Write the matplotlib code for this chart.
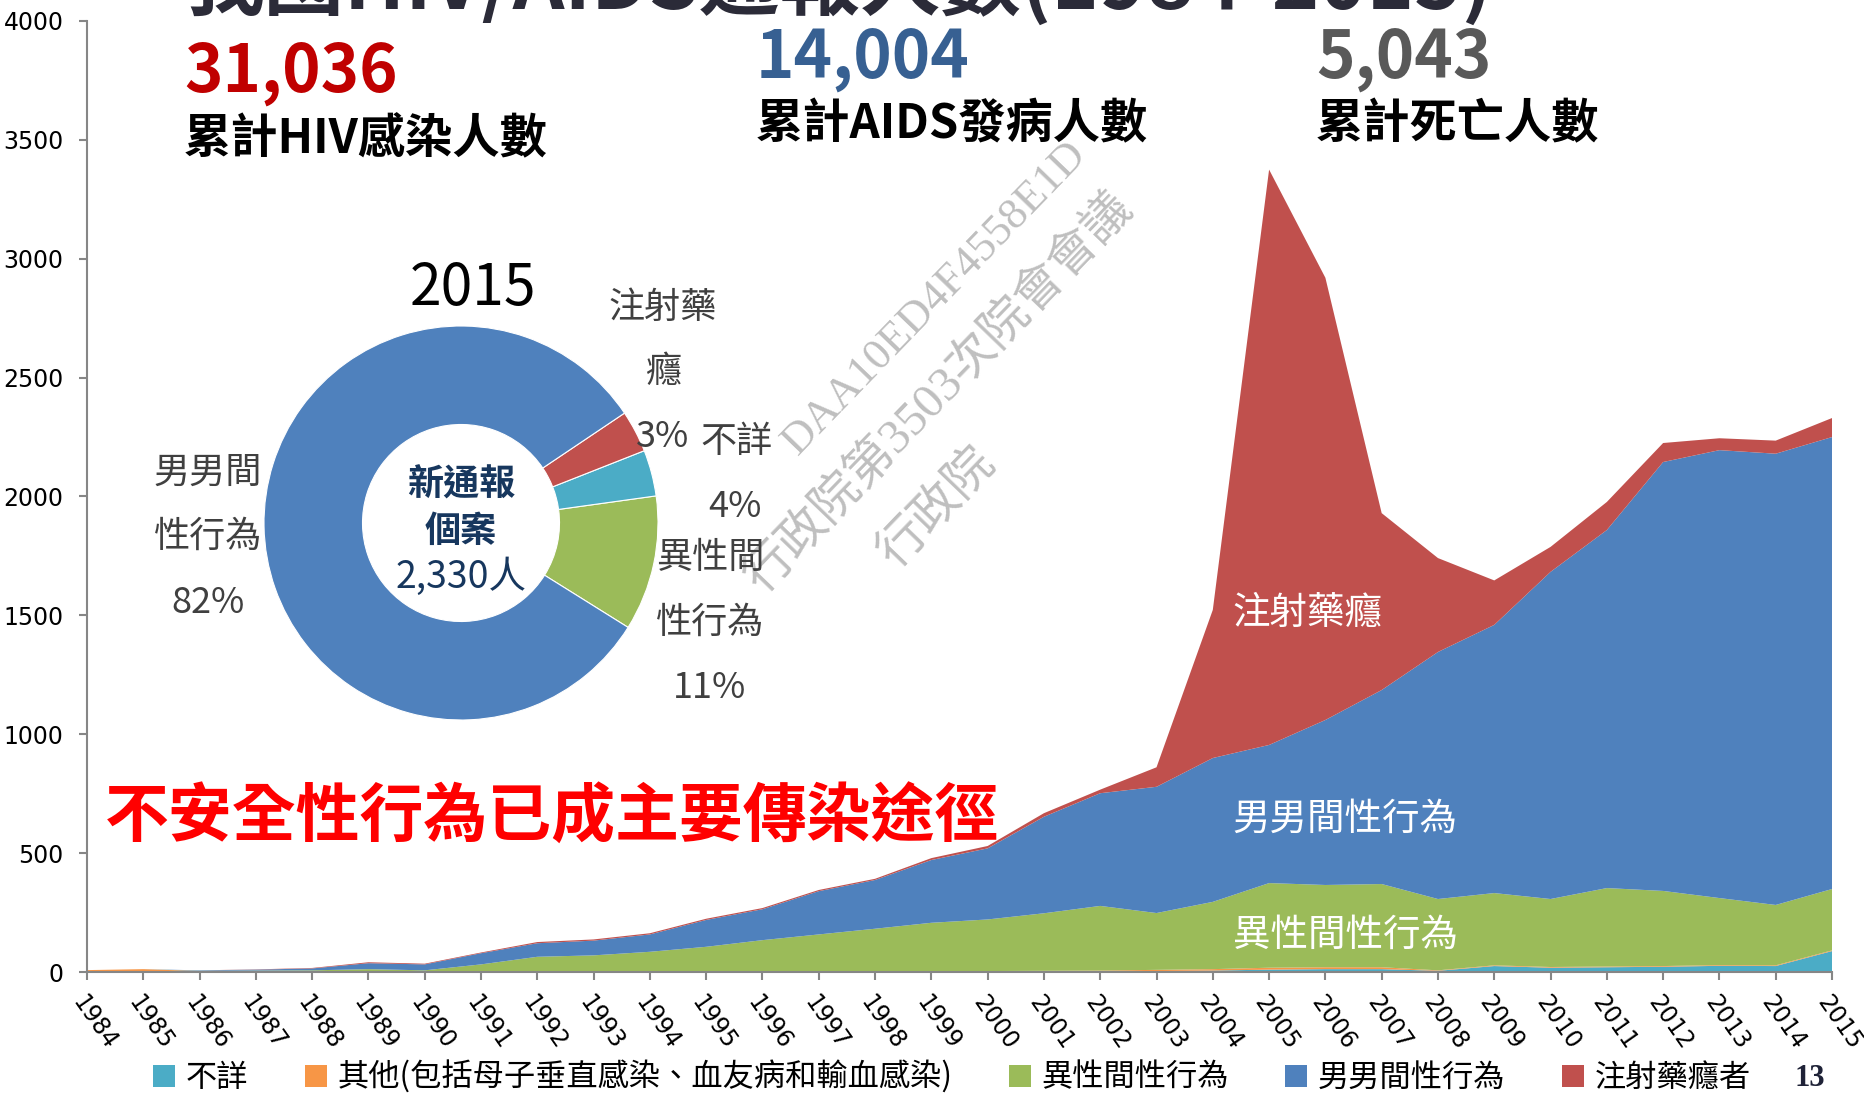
import matplotlib
matplotlib.use('Agg')
import matplotlib.pyplot as plt
from matplotlib.patches import Patch

plt.rcParams['font.family'] = ['Noto Sans CJK TC', 'DejaVu Sans']

# data
years = list(range(1984, 2016))
unknown = [0, 0, 0, 0, 0, 0, 0, 0, 0, 0, 0, 0, 0, 0, 0, 1,
           1, 2, 2, 4, 6, 10, 12, 12, 5, 25, 18, 20, 22, 26, 25, 88]
other = [8, 12, 4, 3, 2, 2, 2, 2, 2, 2, 2, 2, 2, 2, 3, 3,
         3, 3, 4, 5, 6, 8, 8, 8, 2, 3, 3, 3, 3, 3, 3, 3]
hetero = [0, 0, 1, 3, 5, 10, 5, 30, 62, 68, 83, 104, 132, 156, 179, 203,
          217, 242, 272, 239, 283, 356, 346, 350, 300, 304, 286, 330, 316, 282, 254, 258]
msm = [0, 0, 2, 4, 8, 25, 25, 47, 57, 62, 73, 113, 130, 182, 205, 264,
       299, 406, 474, 531, 605, 581, 694, 816, 1039, 1128, 1376, 1506, 1804, 1884, 1898, 1901]
idu = [0, 0, 0, 1, 2, 4, 3, 3, 5, 5, 5, 5, 5, 5, 5, 8,
       10, 15, 15, 82, 623, 2420, 1860, 744, 395, 187, 105, 118, 80, 50, 55, 80]

series_names = ['不詳', '其他(包括母子垂直感染、血友病和輸血感染)', '異性間性行為', '男男間性行為', '注射藥癮者']
colors = ['#4BACC6', '#F79646', '#9BBB59', '#4F81BD', '#C0504D']

# 2015 donut
pie_vals = [hetero[-1], unknown[-1], idu[-1], msm[-1]]
pie_colors = ['#9BBB59', '#4BACC6', '#C0504D', '#4F81BD']

W, H = 1864, 1094
fig = plt.figure(figsize=(W / 100, H / 100), dpi=100)


def fx(x):
    return x / W


def fy(y):
    return 1 - y / H


ax = fig.add_axes([fx(87), fy(972), fx(1832) - fx(87), fy(21) - fy(972)])
ax.stackplot(years, unknown, other, hetero, msm, idu, colors=colors, linewidth=0)
ax.set_xlim(1984, 2015)
ax.set_ylim(0, 4000)
ax.set_yticks(range(0, 4001, 500))
ax.set_xticks(years)
ax.set_xticklabels(years, rotation=-55, ha='left', va='top', rotation_mode='anchor')
for s in ['top', 'right']:
    ax.spines[s].set_visible(False)
for s in ['left', 'bottom']:
    ax.spines[s].set_color('#868686')
    ax.spines[s].set_linewidth(1.5)
ax.tick_params(direction='out', length=6, width=1.5, color='#868686')
ax.tick_params(axis='y', pad=11, labelsize=17)
ax.tick_params(axis='x', pad=8, labelsize=17)
for lbl in ax.get_xticklabels() + ax.get_yticklabels():
    lbl.set_fontfamily('DejaVu Sans')

# labels on areas
ax.text(2004.35, 1510, '注射藥癮', color='white', fontsize=27, va='center')
ax.text(2004.35, 643, '男男間性行為', color='white', fontsize=27, va='center')
ax.text(2004.35, 156, '異性間性行為', color='white', fontsize=27, va='center')

# title (cut off at the top of the slide)
fig.text(fx(184), fy(10), '我國HIV/AIDS通報人數(1984-2015)', fontsize=58, fontweight='bold',
         color='#2B2B38', ha='left', va='baseline')

# headline numbers
fig.text(fx(184), fy(72), '31,036', fontsize=47, fontweight='bold', color='#C00000', va='center')
fig.text(fx(184), fy(139), '累計HIV感染人數', fontsize=34, fontweight='bold', color='black', va='center')
fig.text(fx(756), fy(59), '14,004', fontsize=47, fontweight='bold', color='#376092', va='center')
fig.text(fx(756), fy(124), '累計AIDS發病人數', fontsize=34, fontweight='bold', color='black', va='center')
fig.text(fx(1316), fy(59), '5,043', fontsize=47, fontweight='bold', color='#595959', va='center')
fig.text(fx(1316), fy(124), '累計死亡人數', fontsize=34, fontweight='bold', color='black', va='center')

fig.text(fx(105), fy(818), '不安全性行為已成主要傳染途徑', fontsize=46, fontweight='bold',
         color='#FF0000', va='center')

# watermark
wm = ['Liberation Serif', 'Noto Sans CJK TC']
fig.text(fx(935), fy(298), 'DAA10ED4F4558E1D', fontsize=32, color='#BFBFBF', family=wm,
         rotation=46, ha='center', va='center')
fig.text(fx(939), fy(393), '行政院第3503次院會會議', fontsize=35, color='#BFBFBF', family=wm,
         rotation=46, ha='center', va='center')
fig.text(fx(937), fy(508), '行政院', fontsize=35, color='#BFBFBF', family=wm,
         rotation=46, ha='center', va='center')

# donut inset
cx, cy, r = 461, 523, 197
pax = fig.add_axes([fx(cx - r), fy(cy + r), 2 * r / W, 2 * r / H])
pax.pie(pie_vals, colors=pie_colors, startangle=-32, counterclock=True,
        wedgeprops=dict(width=0.5, linewidth=0.8, edgecolor='white'), radius=1)
pax.set_xlim(-1, 1)
pax.set_ylim(-1, 1)
pax.set_aspect('equal')
pax.axis('off')

fig.text(fx(473), fy(289), '2015', fontsize=41, color='black', ha='center', va='center')
fig.text(fx(461), fy(485), '新通報', fontsize=26, fontweight='bold', color='#17375E', ha='center', va='center')
fig.text(fx(461), fy(531), '個案', fontsize=26, fontweight='bold', color='#17375E', ha='center', va='center')
fig.text(fx(461), fy(577), '2,330人', fontsize=27, color='#17375E', ha='center', va='center')

lab = '#404040'
for txt, x, y in [('男男間', 208, 473), ('性行為', 208, 537), ('82%', 208, 603),
                  ('注射藥', 663, 308), ('癮', 663, 372), ('3%', 663, 437),
                  ('不詳', 737, 442), ('4%', 735, 507),
                  ('異性間', 710, 558), ('性行為', 710, 623), ('11%', 710, 688)]:
    fig.text(fx(x), fy(y), txt, fontsize=26, color=lab, ha='center', va='center')

# legend
handles = [Patch(facecolor=c, edgecolor='none') for c in colors]
fig.legend(handles, series_names, loc='center', bbox_to_anchor=(fx(952), fy(1077)), ncol=5,
           frameon=False, fontsize=22.5, handlelength=0.7, handleheight=0.7,
           handletextpad=0.35, columnspacing=1.8, borderaxespad=0, borderpad=0)

fig.text(fx(1810), fy(1078), '13', fontsize=22, fontweight='bold', family='Liberation Serif',
         color='#1F2237', ha='center', va='center')

fig.savefig('out.png', dpi=100)
